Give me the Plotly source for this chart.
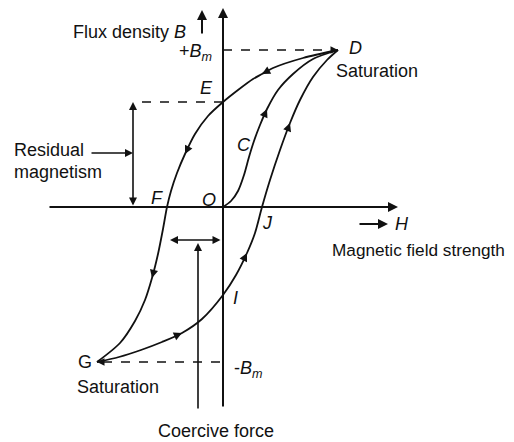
import math

import plotly.graph_objects as go

# ─── Data (H, B in drawing units, origin at O) ───────────────────────────────

# initial magnetisation curve O -> C -> D
initial_h = [0, 8, 15, 21, 26, 31, 37, 44, 55, 70, 90, 115]
initial_b = [0, 6, 16, 32, 50, 66, 82, 98, 117, 133, 148, 157]

# falling branch D -> E -> F -> G
falling_h = [115, 80, 50, 39, 30, 15, 0, -15, -28, -38, -46, -52, -56, -60, -65, -71, -78, -88, -103, -126]
falling_b = [157, 149, 139, 133, 128, 117, 105, 91, 73, 53, 34, 16, 0, -22, -47, -71, -93, -114, -136, -155]

# rising branch G -> I -> J -> D
rising_h = [-126, -104, -82, -61, -41, -21, 0, 13, 24, 32, 39, 47, 57, 67, 77, 90, 104, 115]
rising_b = [-155, -150, -143, -135, -126, -112, -88, -68, -46, -26, 0, 27, 57, 84, 107, 130, 147, 157]

# direction arrows on the loop: (curve, index of arrow head)
loop_arrows = [("initial", 7), ("falling", 3), ("falling", 9), ("falling", 15),
               ("rising", 4), ("rising", 8), ("rising", 13)]

B_MAX = 157
B_MIN = -155
B_RESIDUAL = 105
H_COERCIVE = -53

# labels: text, x, y, xanchor, font size
labels = [
    ("Flux density <i>B</i>", -35, 175, "right", 18),
    ("+<i>B</i><sub><i>m</i></sub>", -9, 155, "right", 18),
    ("<i>D</i>", 124, 159, "left", 18),
    ("Saturation", 111, 136, "left", 18),
    ("<i>E</i>", -17, 119, "center", 18),
    ("<i>C</i>", 21, 62, "center", 18),
    ("Residual", -211, 57, "left", 18),
    ("magnetism", -211, 35, "left", 18),
    ("<i>F</i>", -66, 9, "center", 18),
    ("<i>O</i>", -14, 7, "center", 18),
    ("<i>J</i>", 44, -16, "center", 18),
    ("<i>H</i>", 179, -17, "center", 18),
    ("Magnetic field strength", 107, -43, "left", 17.2),
    ("<i>I</i>", 12, -91, "center", 18),
    ("G", -138, -155, "center", 18),
    ("Saturation", -148, -180, "left", 18),
    ("-<i>B</i><sub><i>m</i></sub>", 9, -162, "left", 18),
    ("Coercive force", -67, -224, "left", 18),
]

INK = "#111111"

fig = go.Figure()

for hs, bs in [(initial_h, initial_b), (falling_h, falling_b), (rising_h, rising_b)]:
    fig.add_trace(go.Scatter(
        x=hs, y=bs, mode="lines",
        line=dict(color=INK, width=1.8, shape="spline", smoothing=0.8),
        hoverinfo="skip", showlegend=False,
    ))


def arrow(x, y, ax, ay, side="end", width=1.6, size=1.0):
    fig.add_annotation(
        x=x, y=y, ax=ax, ay=ay, xref="x", yref="y", axref="x", ayref="y",
        text="", showarrow=True, arrowhead=2, arrowside=side,
        arrowsize=size, arrowwidth=width, arrowcolor=INK,
    )


# arrows along the loop
curves = {"initial": (initial_h, initial_b),
          "falling": (falling_h, falling_b),
          "rising": (rising_h, rising_b)}
for name, i in loop_arrows:
    hs, bs = curves[name]
    dx, dy = hs[i] - hs[i - 1], bs[i] - bs[i - 1]
    n = math.hypot(dx, dy)
    arrow(hs[i], bs[i], hs[i] - 7 * dx / n, bs[i] - 7 * dy / n, width=1.5, size=1.1)

# axes
arrow(175, 0, -175, 0, width=2)
arrow(0, 199, 0, -201, width=2)
arrow(-21, 197, -21, 172, width=2)
arrow(165, -17, 135, -17, width=2)

# dashed saturation / residual levels
dash = dict(color=INK, width=1.5, dash="dash")
fig.add_shape(type="line", x0=0, x1=initial_h[-1] - 6, y0=B_MAX, y1=B_MAX, line=dash)
fig.add_shape(type="line", x0=-81, x1=0, y0=B_RESIDUAL, y1=B_RESIDUAL, line=dash)
fig.add_shape(type="line", x0=falling_h[-1] + 6, x1=0, y0=B_MIN, y1=B_MIN, line=dash)
arrow(initial_h[-1], B_MAX, initial_h[-1] - 8, B_MAX, width=1.5)
arrow(falling_h[-1], B_MIN, falling_h[-1] + 8, B_MIN, width=1.5)

# residual magnetism marker
arrow(-90, B_RESIDUAL, -90, 0, side="end+start", width=1.6)
arrow(-90, 54, -133, 54, width=1.6)

# coercive force marker
arrow(H_COERCIVE, -33, -1, -33, side="end+start", width=1.6)
arrow(-25, -36, -25, -203, width=1.6)

for text, x, y, anchor, size in labels:
    fig.add_annotation(
        x=x, y=y, xref="x", yref="y", text=text, showarrow=False,
        xanchor=anchor, yanchor="middle",
        font=dict(family="Liberation Sans, Arial, sans-serif", size=size, color=INK),
    )

# the page body keeps its default 8px margin: the figure is made 8px smaller
# than the window on each side so nothing scrolls, and the ranges follow it
fig.update_layout(
    width=506, height=434,
    margin=dict(l=0, r=0, t=0, b=0),
    paper_bgcolor="white", plot_bgcolor="white",
    xaxis=dict(range=[-215, 291], visible=False, fixedrange=True),
    yaxis=dict(range=[-235, 199], visible=False, fixedrange=True),
    showlegend=False,
)

fig.write_html("out.html")
